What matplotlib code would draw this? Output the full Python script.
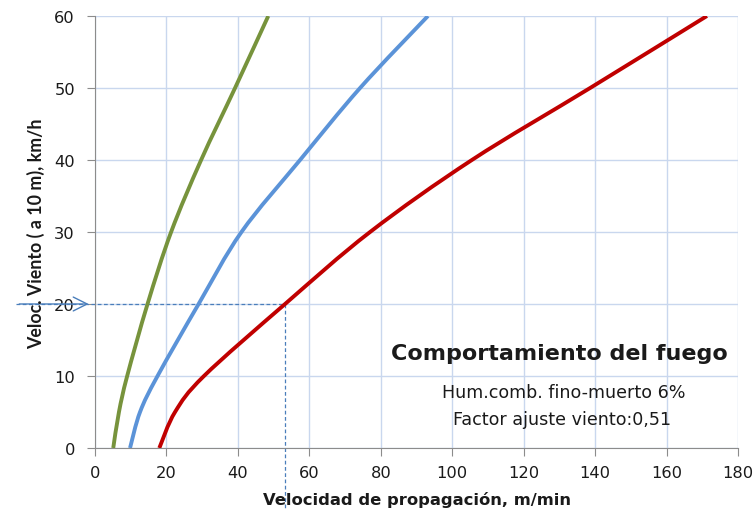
import matplotlib
matplotlib.use("Agg")
import matplotlib.pyplot as plt
from matplotlib.path import Path
from matplotlib.patches import PathPatch

# ---- data -----------------------------------------------------------------
viento = [0, 5, 10, 20, 30, 40, 50, 60]          # km/h
vel_verde = [5.1, 6.7, 9.0, 14.7, 21.3, 29.7, 39.2, 48.5]
vel_azul = [9.8, 12.6, 17.5, 29.0, 41.0, 57.4, 74.2, 93.2]
vel_roja = [18.0, 22.4, 30.5, 53.2, 77.0, 105.5, 138.6, 171.3]
marca_viento, marca_vel = 20, 53.2

GREEN, BLUE, RED, GRID, GUIDE = "#77933c", "#5b93d8", "#c00000", "#c9d7ee", "#4a7ebb"
INK, AXIS = "#1a1a1a", "#8c8c8c"
plt.rcParams.update({"font.family": ["DejaVu Sans"], "text.color": INK})


def smooth(ax, xs, ys, **kw):
    # Excel-style smoothed line: Catmull-Rom segments drawn as cubic Beziers
    pts = list(zip(xs, ys))
    verts, codes = [pts[0]], [Path.MOVETO]
    for i in range(len(pts) - 1):
        p0 = pts[i - 1] if i > 0 else pts[i]
        p1, p2 = pts[i], pts[i + 1]
        p3 = pts[i + 2] if i + 2 < len(pts) else pts[i + 1]
        c1 = (p1[0] + (p2[0] - p0[0]) / 6, p1[1] + (p2[1] - p0[1]) / 6)
        c2 = (p2[0] - (p3[0] - p1[0]) / 6, p2[1] - (p3[1] - p1[1]) / 6)
        verts += [c1, c2, p2]
        codes += [Path.CURVE4] * 3
    ax.add_patch(PathPatch(Path(verts, codes), fill=False, capstyle="butt", **kw))


fig = plt.figure(figsize=(7.56, 5.10), dpi=100)
ax = fig.add_axes([0.1257, 0.1196, 0.8505, 0.8471])

for xs, col in ((vel_verde, GREEN), (vel_azul, BLUE), (vel_roja, RED)):
    smooth(ax, xs, viento, edgecolor=col, lw=2.8, zorder=3)

ax.set_xlim(0, 180)
ax.set_ylim(0, 60)
ax.set_xticks(range(0, 181, 20))
ax.set_yticks(range(0, 61, 10))
ax.grid(True, color=GRID, lw=1.0)
ax.set_axisbelow(True)
for s in ("top", "right"):
    ax.spines[s].set_visible(False)
for s in ("left", "bottom"):
    ax.spines[s].set_color(AXIS)
ax.tick_params(direction="out", length=5.5, color=AXIS, labelsize=11.7, labelcolor=INK)
ax.tick_params(axis="x", pad=7)
ax.tick_params(axis="y", pad=9)

# axis titles placed in figure pixels to match the reference
fig.text(417 / 756, 5 / 510, "Velocidad de propagación, m/min", ha="center",
         va="baseline", fontsize=11.8, fontweight="bold")
fig.text(36 / 756, 1 - 233.5 / 510, "Veloc. Viento ( a 10 m), km/h", rotation=90,
         ha="center", va="center", fontsize=12.8, fontweight="bold",
         family=["Lato", "DejaVu Sans"])

# guide lines for the 20 km/h example
ax.plot([-22, marca_vel], [marca_viento, marca_viento], ls=(0, (3, 2)), color=GUIDE,
        lw=0.9, clip_on=False, zorder=2)
ax.plot([marca_vel, marca_vel], [marca_viento, -8.5], ls=(0, (3, 2)), color=GUIDE,
        lw=0.9, clip_on=False, zorder=2)
ax.annotate("", xy=(-1, marca_viento), xytext=(-22, marca_viento),
            arrowprops=dict(arrowstyle="->,head_length=1.0,head_width=0.5",
                            color=GUIDE, lw=1.0), annotation_clip=False)

ax.text(130.0, 12.36, "Comportamiento del fuego", ha="center", va="baseline",
        fontsize=16, fontweight="bold")
ax.text(131.2, 7.04, "Hum.comb. fino-muerto 6%", ha="center", va="baseline", fontsize=12.6)
ax.text(130.7, 3.33, "Factor ajuste viento:0,51", ha="center", va="baseline", fontsize=12.6)

fig.savefig("out.png", dpi=100)
